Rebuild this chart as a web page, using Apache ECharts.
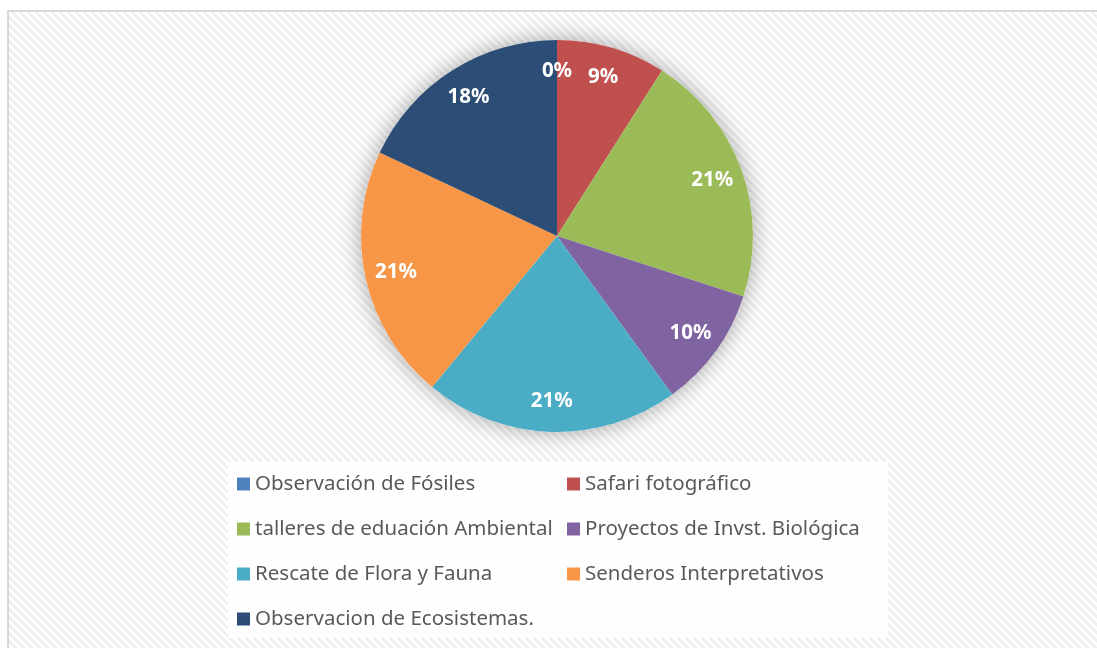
<!DOCTYPE html>
<html>
<head>
<meta charset="utf-8">
<script src="https://cdn.jsdelivr.net/npm/echarts@6/dist/echarts.min.js"></script>
<style>
html,body{margin:0;padding:0;background:#fff;}
#c{width:1097px;height:648px;}
</style>
</head>
<body>
<div id="c"></div>
<script>
var categories = ['Observación de Fósiles','Safari fotográfico','talleres de eduación Ambiental','Proyectos de Invst. Biológica','Rescate de Flora y Fauna','Senderos Interpretativos','Observacion de Ecosistemas.'];
var values = [0, 9, 21, 10, 21, 21, 18];
var colors = ['#4F81BD','#C0504D','#9BBB59','#8064A2','#4BACC6','#F79646','#2C4D75'];

var pc = document.createElement('canvas');
pc.width = 8; pc.height = 8;
var g = pc.getContext('2d');
g.fillStyle = '#ffffff'; g.fillRect(0,0,8,8);
g.strokeStyle = '#eeeeee'; g.lineWidth = 2.5;
g.beginPath();
g.moveTo(-2,-2); g.lineTo(10,10);
g.moveTo(-6,2); g.lineTo(6,14);
g.moveTo(2,-6); g.lineTo(14,6);
g.stroke();

var data = categories.map(function(n,i){return {name:n, value:values[i], itemStyle:{color:colors[i]}};});
var chart = echarts.init(document.getElementById('c'), null, {renderer:'canvas'});
var font = 'Noto Sans';
var legendText = {color:'#595959', fontSize:20.5, fontFamily:font, lineHeight:22};
chart.setOption({
  animation:false,
  graphic:[
    {type:'rect', z:-10, shape:{x:8,y:11,width:1100,height:650}, style:{fill:{image:pc, repeat:'repeat'}, stroke:'#d9d9d9', lineWidth:2}},
    {type:'rect', z:-9, shape:{x:228,y:461,width:660,height:177}, style:{fill:'rgba(255,255,255,0.85)'}}
  ],
  legend:[
    {orient:'vertical', left:237, top:473, padding:0, itemWidth:13, itemHeight:13, itemGap:23, icon:'rect',
     data:[categories[0],categories[2],categories[4],categories[6]], textStyle:legendText, selectedMode:false},
    {orient:'vertical', left:567, top:473, padding:0, itemWidth:13, itemHeight:13, itemGap:23, icon:'rect',
     data:[categories[1],categories[3],categories[5]], textStyle:legendText, selectedMode:false}
  ],
  series:[
    {type:'pie', center:[557,236], radius:196, silent:true, z:1,
     data:[{value:1, name:'_bg', itemStyle:{color:'#ffffff', shadowBlur:22, shadowColor:'rgba(0,0,0,0.35)'}}],
     label:{show:false}, labelLine:{show:false}, legendHoverLink:false},
    {type:'pie', center:[557,236], radius:196, startAngle:90, clockwise:true, z:2,
     data:data, label:{show:false}, labelLine:{show:false}, itemStyle:{borderWidth:0}},
    {type:'pie', center:[557,236], radius:[128,196], startAngle:90, clockwise:true, z:3, silent:true,
     data:categories.map(function(n,i){return {name:n, value:values[i], itemStyle:{color:'rgba(0,0,0,0)'}};}),
     label:{show:true, position:'inside', formatter:'{d}%', color:'#ffffff', fontSize:20.5, fontWeight:'bold', fontFamily:font},
     labelLine:{show:false}, legendHoverLink:false}
  ]
});
</script>
</body>
</html>
